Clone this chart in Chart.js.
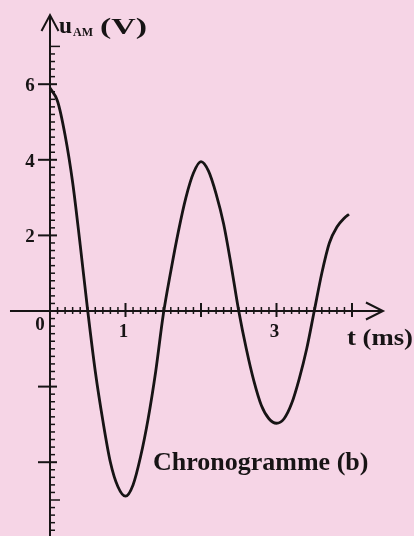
<!DOCTYPE html>
<html>
<head>
<meta charset="utf-8">
<script src="https://cdn.jsdelivr.net/npm/chart.js@4.4.1/dist/chart.umd.min.js"></script>
<style>
    html, body { margin: 0; padding: 0; background: #f6d5e6; }
    #chrono { display: block; }
</style>
</head>
<body>
<canvas id="chrono" width="414" height="536"></canvas>
<script>
const timesMs = [0, 0.1, 0.2, 0.3, 0.4, 0.5, 0.6, 0.7, 0.8, 0.9,
                 1.0, 1.1, 1.2, 1.3, 1.4, 1.5, 1.6, 1.7, 1.8, 1.9,
                 2.0, 2.1, 2.2, 2.3, 2.4, 2.5, 2.6, 2.7, 2.8, 2.9,
                 3.0, 3.1, 3.2, 3.3, 3.4, 3.5, 3.6, 3.7, 3.8, 3.9, 3.96];
const uAM = [5.9, 5.55, 4.65, 3.4, 1.75, 0.0, -1.6, -2.9, -4.0, -4.65,
             -4.9, -4.6, -3.85, -2.85, -1.6, -0.1, 1.05, 2.1, 3.0, 3.65,
             3.95, 3.7, 3.1, 2.3, 1.2, 0.0, -1.0, -1.85, -2.5, -2.85,
             -2.97, -2.85, -2.45, -1.8, -1.0, 0.0, 1.0, 1.8, 2.22, 2.46, 2.56];

const yMajorTicks = [-4, -2, 2, 4, 6];
const yMediumTicks = [-5, 7];
const yTickLabels = [6, 4, 2];
const xMajorTicks = [1, 2, 3, 4];
const xTickLabels = [1, 3];

// where the scan puts things
const W = 414, H = 536;
const X0 = 50, PX_PER_MS = 75.5;
const Y0 = 311, PX_PER_V = 37.8;
const INK = '#171415';
const SERIF = '"Liberation Serif", "DejaVu Serif", serif';

function label(ctx, text, x, y, size, width) {
    ctx.save();
    ctx.font = 'bold ' + size + 'px ' + SERIF;
    ctx.fillStyle = INK;
    ctx.textAlign = 'left';
    ctx.textBaseline = 'alphabetic';
    let w = ctx.measureText(text).width;
    ctx.translate(x, y);
    if (width) {
        ctx.scale(width / w, 1);
    }
    ctx.fillText(text, 0, 0);
    ctx.restore();
}

function centered(ctx, text, x, y, size) {
    ctx.save();
    ctx.font = 'bold ' + size + 'px ' + SERIF;
    ctx.fillStyle = INK;
    ctx.textAlign = 'center';
    ctx.textBaseline = 'middle';
    ctx.fillText(text, x, y);
    ctx.restore();
}

function line(ctx, x1, y1, x2, y2) {
    ctx.beginPath();
    ctx.moveTo(x1, y1);
    ctx.lineTo(x2, y2);
    ctx.stroke();
}

const axesPlugin = {
    id: 'axes',
    beforeDatasetsDraw(chart) {
        const ctx = chart.ctx;
        const xs = chart.scales.x;
        const ys = chart.scales.y;
        const ox = xs.getPixelForValue(0);
        const oy = ys.getPixelForValue(0);

        ctx.save();
        ctx.strokeStyle = INK;
        ctx.lineWidth = 2;

        // axis lines
        const yTop = ys.getPixelForValue(7.83);
        const xEnd = xs.getPixelForValue(4.41);
        line(ctx, ox, H, ox, yTop);
        line(ctx, xs.getPixelForValue(-0.53), oy, xEnd, oy);

        // open arrow heads
        ctx.lineJoin = 'miter';
        ctx.beginPath();
        ctx.moveTo(ox - 8.5, yTop + 16);
        ctx.lineTo(ox, yTop);
        ctx.lineTo(ox + 8.5, yTop + 16);
        ctx.stroke();
        ctx.beginPath();
        ctx.moveTo(xEnd - 17, oy - 8.5);
        ctx.lineTo(xEnd, oy);
        ctx.lineTo(xEnd - 17, oy + 8.5);
        ctx.stroke();

        // y ticks: minor every 0.2 V
        ctx.lineWidth = 1.5;
        for (let k = Math.ceil(ys.min * 5); k <= 35; k++) {
            if (k === 0) continue;
            const v = k / 5;
            const py = ys.getPixelForValue(v);
            if (yMajorTicks.includes(v)) {
                ctx.lineWidth = 2;
                line(ctx, ox - 12, py, ox + 7, py);
                ctx.lineWidth = 1.5;
            } else if (yMediumTicks.includes(v)) {
                line(ctx, ox, py, ox + 10, py);
            } else {
                line(ctx, ox, py, ox + 5, py);
            }
        }

        // x ticks: minor every 0.1 ms
        for (let k = 1; k <= 40; k++) {
            const v = k / 10;
            const px = xs.getPixelForValue(v);
            if (xMajorTicks.includes(v)) {
                ctx.lineWidth = 2;
                line(ctx, px, oy - 8, px, oy + 6);
                ctx.lineWidth = 1.5;
            } else {
                line(ctx, px, oy - 4, px, oy + 3);
            }
        }
        ctx.restore();

        // tick labels
        yTickLabels.forEach(v => {
            centered(ctx, String(v), ox - 20, ys.getPixelForValue(v) + 2, 19);
        });
        xTickLabels.forEach(v => {
            centered(ctx, String(v), xs.getPixelForValue(v) - 2, oy + 21, 19);
        });
        centered(ctx, '0', ox - 10, oy + 14, 19);

        // axis titles
        label(ctx, 'u', 59, 33, 23, 13);
        label(ctx, 'AM', 73, 36, 13, 20);
        label(ctx, '(V)', 100, 34, 24, 47);
        label(ctx, 't (ms)', 347, 345, 24, 66);
        label(ctx, 'Chronogramme (b)', 153, 470, 26);
    }
};

const ctx = document.getElementById('chrono');
new Chart(ctx, {
    type: 'line',
    data: {
        datasets: [{
            data: timesMs.map((t, i) => ({ x: t, y: uAM[i] })),
            borderColor: INK,
            borderWidth: 2.8,
            pointRadius: 0,
            fill: false,
            cubicInterpolationMode: 'monotone'
        }]
    },
    options: {
        responsive: false,
        devicePixelRatio: 1,
        animation: false,
        events: [],
        layout: { padding: 0 },
        scales: {
            x: {
                type: 'linear',
                min: -X0 / PX_PER_MS,
                max: (W - X0) / PX_PER_MS,
                display: false
            },
            y: {
                min: -(H - Y0) / PX_PER_V,
                max: Y0 / PX_PER_V,
                display: false
            }
        },
        plugins: {
            legend: { display: false },
            tooltip: { enabled: false }
        }
    },
    plugins: [axesPlugin]
});
</script>
</body>
</html>
